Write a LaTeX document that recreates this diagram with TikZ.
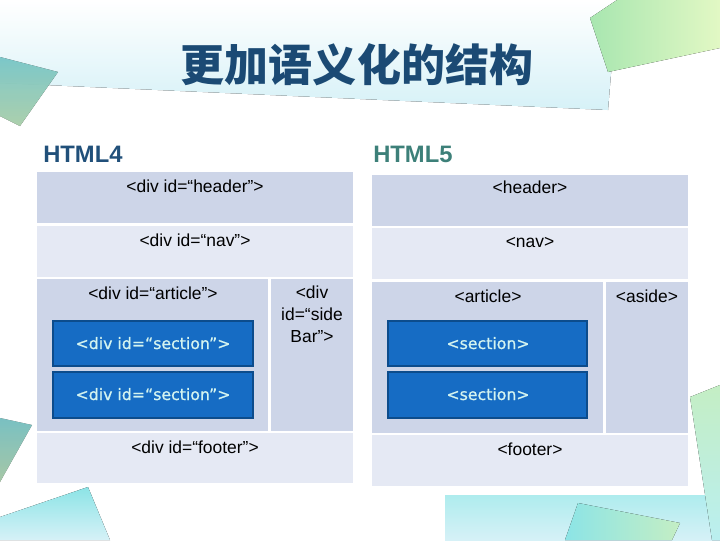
\documentclass[tikz,border=0pt]{standalone}
\usepackage{fontspec}
\setmainfont{Liberation Sans}
\newfontfamily\cjk{Noto Sans CJK SC}
\newfontfamily\pixel[FakeBold=0.8]{DejaVu Sans}
\usetikzlibrary{fit}

\definecolor{titleblue}{RGB}{27,74,116}
\definecolor{fourblue}{RGB}{33,80,122}
\definecolor{fiveteal}{RGB}{61,128,121}
\definecolor{darkcell}{RGB}{205,213,232}
\definecolor{lightcell}{RGB}{229,233,244}
\definecolor{secfill}{RGB}{22,108,196}
\definecolor{secdraw}{RGB}{12,76,140}
\definecolor{sectext}{RGB}{212,244,240}
\definecolor{palecyan}{RGB}{214,241,247}
\definecolor{aqua}{RGB}{140,228,230}
\definecolor{mint}{RGB}{196,238,196}
\definecolor{lime}{RGB}{226,248,196}
\definecolor{leaf}{RGB}{168,230,176}

\begin{document}
\begin{tikzpicture}[
  x=0.025cm, y=-0.025cm,
  cellD/.style  = {fill=darkcell, inner sep=0pt},
  cellL/.style  = {fill=lightcell, inner sep=0pt},
  sect/.style   = {fill=secfill, draw=secdraw, line width=1.8pt, inner sep=0pt},
  sectxt/.style = {text=sectext, font=\pixel\fontsize{11.2}{13}\selectfont,
                   inner sep=0pt, anchor=base},
  txt/.style    = {font=\fontsize{12.4}{15.6}\selectfont, inner sep=0pt,
                   anchor=base},
  head/.style   = {font=\bfseries\fontsize{16.9}{20}\selectfont, inner sep=0pt,
                   anchor=base west}
]
\useasboundingbox (0,0) rectangle (720,540);

% background
\fill[top color=white, bottom color=palecyan] (0,0) -- (617,0) -- (608,110) -- (0,83) -- cycle;
\fill[top color=aqua, bottom color=mint, opacity=.85] (0,57) -- (58,72) -- (20,126) -- (0,116) -- cycle;
\fill[left color=leaf, right color=lime] (617,0) -- (590,18) -- (608,72) -- (720,48) -- (720,0) -- cycle;
\fill[top color=aqua, bottom color=mint, opacity=.8] (0,418) -- (32,425) -- (0,482) -- cycle;
\fill[top color=aqua, bottom color=palecyan] (0,517) -- (88,487) -- (110,540) -- (0,540) -- cycle;
\fill[top color=aqua!70, bottom color=palecyan] (445,495) rectangle (720,540);
\fill[left color=aqua, right color=mint] (578,503) -- (680,523) -- (672,540) -- (565,540) -- cycle;
\fill[top color=mint, bottom color=aqua!60] (690,397) -- (720,385) -- (720,540) -- (712,540) -- cycle;

\node[font=\cjk\bfseries\fontsize{31.3}{36}\selectfont, text=titleblue] (title) at (357,65) {更加语义化的结构};

\node[head, text=fourblue] (html4) at (43,162) {HTML4};
\node[head, text=fiveteal] (html5) at (373,162) {HTML5};

% HTML4
\node[cellD, fit={(37,172) (353,223)}] (hdr4) {};
\node[cellL, fit={(37,226) (353,277)}] (nav4) {};
\node[cellD, fit={(37,279) (268,431)}] (art4) {};
\node[cellD, fit={(271,279) (353,431)}] (side4) {};
\node[cellL, fit={(37,433) (353,483)}] (foot4) {};
\node[sect, fit={(53,321) (253,366)}] (seca4) {};
\node[sect, fit={(53,372) (253,418)}] (secb4) {};

\node[txt] (hdr4t) at (195,192) {<div id=“header”>};
\node[txt] (nav4t) at (195,246) {<div id=“nav”>};
\node[txt] (art4t) at (153,299) {<div id=“article”>};
\node[txt, anchor=north, align=center] (side4t) at (312,286) {<div\\id=“side\\Bar”>};
\node[txt] (foot4t) at (195,453) {<div id=“footer”>};
\node[sectxt] (seca4t) at (153,349) {<div id=“section”>};
\node[sectxt] (secb4t) at (153,400) {<div id=“section”>};

% HTML5
\node[cellD, fit={(372,175) (688,226)}] (hdr5) {};
\node[cellL, fit={(372,228) (688,279)}] (nav5) {};
\node[cellD, fit={(372,282) (603,433)}] (art5) {};
\node[cellD, fit={(606,282) (688,433)}] (aside5) {};
\node[cellL, fit={(372,435) (688,486)}] (foot5) {};
\node[sect, fit={(388,321) (587,366)}] (seca5) {};
\node[sect, fit={(388,372) (587,418)}] (secb5) {};

\node[txt] (hdr5t) at (530,193) {<header>};
\node[txt] (nav5t) at (530,247) {<nav>};
\node[txt] (art5t) at (488,302) {<article>};
\node[txt] (aside5t) at (647,302) {<aside>};
\node[txt] (foot5t) at (530,455) {<footer>};
\node[sectxt] (seca5t) at (488,349) {<section>};
\node[sectxt] (secb5t) at (488,400) {<section>};

\end{tikzpicture}
\end{document}
